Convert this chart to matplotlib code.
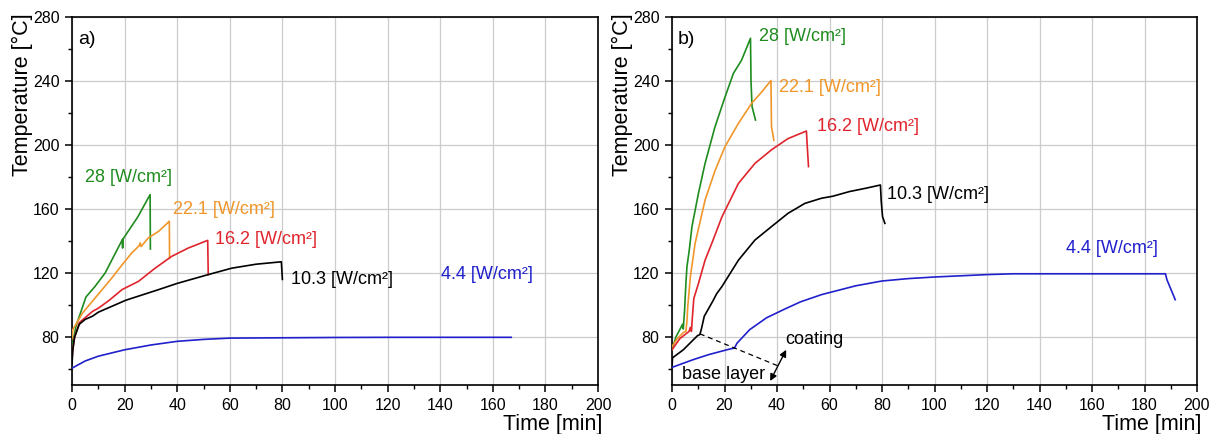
import matplotlib
matplotlib.use("Agg")
import matplotlib.pyplot as plt
from matplotlib.ticker import MultipleLocator

plt.rcParams['font.family'] = ['Liberation Sans', 'DejaVu Sans']

# ---------------- data: panel a ----------------
green_a_t = [0, 0.3, 1.5, 5.3, 8.8, 12.6, 15.2, 19.2, 19.25, 19.3, 25, 29.7, 29.8]
green_a_T = [68, 76, 86.7, 105, 111.7, 120, 128.3, 141, 135.6, 141, 155, 169, 135]

orange_a_t = [0, 0.3, 4, 10.4, 15.2, 19, 22.7, 25.5, 25.9, 26.3, 27, 29, 32.9, 37, 37.1]
orange_a_T = [79, 84.6, 95, 107.5, 117, 125, 132.5, 137, 138.8, 136.5, 138, 141.9, 146, 152.3, 129.4]

red_a_t = [0, 0.3, 1, 2.8, 7.8, 10, 14.2, 19, 25.3, 31.6, 37.9, 44.2, 51.6, 51.8]
red_a_T = [66, 72, 80, 89, 96, 98, 103, 109.6, 114.8, 123, 130.4, 135.6, 140.4, 119]

black_a_t = [0, 0.3, 1, 2.8, 5, 7.8, 10, 14.2, 20.5, 32.9, 40, 51.8, 60.7, 70, 79.6, 80]
black_a_T = [63, 72, 80, 88, 91, 93, 95.5, 98.5, 103, 109.6, 113.5, 119, 123, 125.5, 127, 116]

blue_a_t = [0, 5, 10, 20, 30, 40, 50, 60, 80, 100, 120, 167]
blue_a_T = [60.5, 65, 68, 72, 75, 77.3, 78.5, 79.3, 79.5, 79.7, 79.8, 79.8]

# ---------------- data: panel b ----------------
green_b_t = [0, 1.5, 3.4, 4.0, 4.3, 4.8, 5.3, 5.7, 6.6, 7.6, 10.1, 12.6, 16.4, 20.2, 23.4, 26.5, 29.9, 30.1, 30.5, 31.8]
green_b_T = [72, 80, 86, 88, 85, 97, 113.75, 124, 134.6, 149, 170, 188.5, 211.5, 230, 244.8, 253, 266.7, 240, 224, 215.6]

orange_b_t = [0, 2, 4.5, 5.3, 5.7, 6.0, 7.0, 8.8, 12.6, 16.4, 20.2, 25.3, 30.3, 34.1, 37.7, 37.9, 38.8]
orange_b_T = [74, 79, 83, 83.5, 90, 99, 117.7, 138.5, 165.6, 184, 199, 213.5, 226, 233, 240.3, 211.5, 203]

red_b_t = [0, 3, 6.5, 7.0, 7.4, 7.8, 8.3, 10, 12.6, 15.5, 19, 25.3, 31.6, 37.9, 44.2, 51.2, 51.5, 52]
red_b_T = [72, 79, 83.5, 86, 83.5, 93, 104, 113, 128, 140, 155, 176, 188.5, 197, 204, 208.75, 200, 186.5]

black_b_t = [0, 0.2, 4.3, 9.7, 10.6, 11.2, 12.3, 15.4, 17, 19, 25.3, 31.6, 37.9, 44.2, 50.6, 56.9, 61.3, 67.6, 73.9, 79.4, 79.7, 80.2, 81.1]
black_b_T = [62, 67, 72, 80.8, 81.5, 85, 93, 102, 107, 111.5, 128, 140.6, 149, 157.3, 163.5, 166.7, 168, 170.9, 173, 175, 165, 155.3, 151]

blue_b_t = [0, 8, 14, 22.5, 23.8, 24.7, 29.6, 33.2, 36, 43, 49, 57, 70, 80, 90, 100, 120, 130, 188, 188.5, 190.4, 191.7]
blue_b_T = [61, 65.8, 69, 72.7, 73, 76, 84.6, 88.75, 92, 97.5, 102, 106.5, 112, 115, 116.5, 117.5, 119, 119.5, 119.5, 116, 108.5, 103.3]

series_labels = ["28 [W/cm²]", "22.1 [W/cm²]", "16.2 [W/cm²]", "10.3 [W/cm²]", "4.4 [W/cm²]"]
colors = ["#1e8c1e", "#f0962a", "#e0242c", "#000000", "#2020cc"]

label_pos_a = [(5, 180), (38.5, 160), (54.4, 140.8), (83.3, 115.8), (140.3, 119)]
label_pos_b = [(33.1, 267.9), (40.9, 236), (55.1, 211.6), (82, 169), (150, 135.6)]

# annotation in panel b
dash_t = [10.6, 40.75]
dash_T = [82, 61.7]
arrow_start = (37.4, 52.5)
arrow_end = (43.5, 72)

fig = plt.figure(figsize=(12.14, 4.34), dpi=100)
W, H = 1214, 434
ax_a = fig.add_axes([72 / W, 1 - 385 / H, 526 / W, 368 / H])
ax_b = fig.add_axes([672 / W, 1 - 385 / H, 525 / W, 368 / H])

panels = [
    (ax_a, [(green_a_t, green_a_T), (orange_a_t, orange_a_T), (red_a_t, red_a_T),
            (black_a_t, black_a_T), (blue_a_t, blue_a_T)], label_pos_a, "a)"),
    (ax_b, [(green_b_t, green_b_T), (orange_b_t, orange_b_T), (red_b_t, red_b_T),
            (black_b_t, black_b_T), (blue_b_t, blue_b_T)], label_pos_b, "b)"),
]

for ax, data, lpos, tag in panels:
    for (t, T), c, lab, (lx, ly) in zip(data, colors, series_labels, lpos):
        ax.plot(t, T, color=c, lw=1.2, zorder=3)
        ax.text(lx, ly, lab, color=c, fontsize=13, ha='left', va='center', zorder=4)
    ax.text(2.3, 266, tag, fontsize=14, ha='left', va='center')
    ax.set_xlim(0, 200)
    ax.set_ylim(50, 280)
    ax.xaxis.set_major_locator(MultipleLocator(20))
    ax.xaxis.set_minor_locator(MultipleLocator(10))
    ax.yaxis.set_major_locator(MultipleLocator(40))
    ax.yaxis.set_minor_locator(MultipleLocator(20))
    ax.set_yticks([80, 120, 160, 200, 240, 280])
    ax.grid(True, which='major', color='#cccccc', lw=0.9, zorder=0)
    ax.set_axisbelow(True)
    ax.tick_params(which='major', direction='out', length=5, width=1.1, labelsize=11.5, pad=4)
    ax.tick_params(which='minor', direction='out', length=3, width=1.0)
    ax.tick_params(top=False, right=False, which='both')
    for s in ax.spines.values():
        s.set_linewidth(1.2)
    ax.set_xlabel("Time [min]", fontsize=15.5, ha='right', va='center')
    ax.xaxis.set_label_coords(1.008, -0.108)
    ax.set_ylabel("Temperature [°C]", fontsize=15.5, loc='top')
    ax.yaxis.set_label_coords(-0.074, 1.01)

ax_b.plot(dash_t, dash_T, color='black', lw=0.9, ls=(0, (4, 3)), zorder=3)
ax_b.annotate("", xy=arrow_end, xytext=arrow_start,
              arrowprops=dict(arrowstyle='<|-|>', color='black', lw=1.0,
                              mutation_scale=10, shrinkA=0, shrinkB=0), zorder=4)
ax_b.text(43.2, 78.3, "coating", fontsize=13, ha='left', va='center', zorder=4)
ax_b.text(3.8, 56.4, "base layer", fontsize=13, ha='left', va='center', zorder=4)

fig.savefig("out.png", dpi=100)
